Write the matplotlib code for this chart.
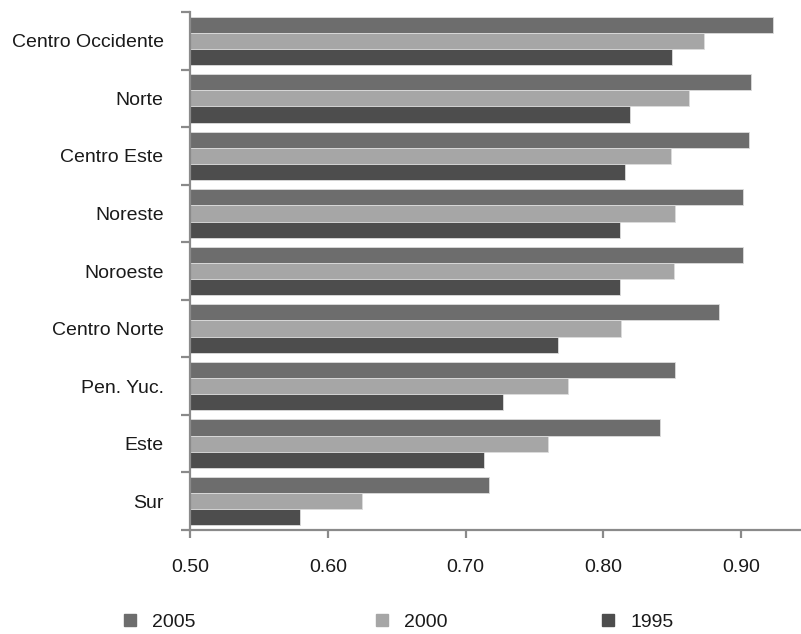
import matplotlib
matplotlib.use("Agg")
import matplotlib.pyplot as plt
from matplotlib.lines import Line2D
import numpy as np

plt.rcParams['font.family'] = ['Liberation Sans', 'DejaVu Sans']

categories = ["Centro Occidente", "Norte", "Centro Este", "Noreste", "Noroeste",
              "Centro Norte", "Pen. Yuc.", "Este", "Sur"]
v2005 = [0.923, 0.907, 0.906, 0.901, 0.901, 0.884, 0.852, 0.841, 0.717]
v2000 = [0.873, 0.862, 0.849, 0.852, 0.851, 0.813, 0.774, 0.760, 0.625]
v1995 = [0.850, 0.819, 0.816, 0.812, 0.812, 0.767, 0.727, 0.713, 0.580]
series_names = ["2005", "2000", "1995"]
colors = ["#6d6d6d", "#a6a6a6", "#4d4d4d"]
xticks = [0.50, 0.60, 0.70, 0.80, 0.90]

W, H = 801, 634
fig = plt.figure(figsize=(W / 100, H / 100), dpi=100)
ax = fig.add_axes([190 / W, 1 - 530 / H, (W - 190) / W, (530 - 12) / H])

y = np.arange(len(categories))
h = 0.28
base = 0.5
for k, vals in enumerate([v2005, v2000, v1995]):
    vals = np.array(vals)
    ax.barh(y + (k - 1) * h, vals - base, left=base, height=h,
            color=colors[k], edgecolor="#dcdcdc", linewidth=0.6, zorder=2)

ax.set_xlim(0.5, 0.5 + 611 / 1378)
ax.set_ylim(len(categories) - 0.5, -0.5)

spine_c = "#8a8a8a"
for s in ["top", "right"]:
    ax.spines[s].set_visible(False)
for s in ["left", "bottom"]:
    ax.spines[s].set_color(spine_c)
    ax.spines[s].set_linewidth(1.6)

fs = 14
ax.set_yticks(y)
ax.set_yticklabels(categories, fontsize=fs, color="#1a1a1a")
ax.tick_params(axis='y', which='major', length=0, pad=19)
ax.set_yticks(np.arange(-0.5, len(categories)), minor=True)
ax.tick_params(axis='y', which='minor', length=6.5, width=1.6, color=spine_c, direction='out')

ax.set_xticks(xticks)
ax.set_xticklabels([f"{t:.2f}" for t in xticks], fontsize=fs, color="#1a1a1a")
ax.tick_params(axis='x', which='major', length=6, width=1.6, color=spine_c, direction='out', pad=15)

xs = [122 / W, 374 / W, 600 / W]
for name, c, x0 in zip(series_names, colors, xs):
    handle = Line2D([], [], linestyle='none', marker='s', markersize=9,
                    markerfacecolor=c, markeredgecolor=c)
    fig.legend([handle], [name], loc='center left', bbox_to_anchor=(x0, 1 - 622 / H),
               frameon=False, fontsize=fs, handlelength=0.85, handletextpad=0.7,
               borderpad=0, borderaxespad=0, labelcolor="#1a1a1a")

fig.savefig("out.png", dpi=100)
